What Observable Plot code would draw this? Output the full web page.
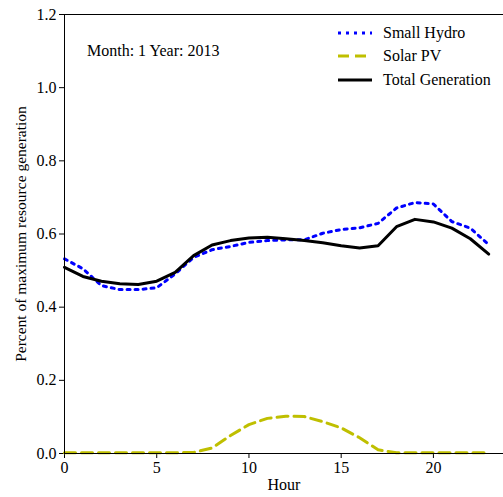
<!DOCTYPE html>
<html>
<head>
<meta charset="utf-8">
<script src="https://cdn.jsdelivr.net/npm/d3@7"></script>
<script src="https://cdn.jsdelivr.net/npm/@observablehq/plot@0.6"></script>
<style>
  html, body { margin: 0; padding: 0; background: #fff; }
  #wrap { position: relative; width: 503px; height: 497px; font-family: "Liberation Serif", serif; }
  #wrap svg text { font-family: "Liberation Serif", serif; }
  #legend { position: absolute; left: 338px; top: 21px; font-size: 16px; color: #000; }
  #legend div { display: flex; align-items: center; height: 23.5px; }
  #legend svg { margin-right: 11px; }
  #note { position: absolute; left: 87px; top: 42px; font-size: 16px; }
</style>
</head>
<body>
<div id="wrap"></div>
<script>
const hours = d3.range(0, 24);
const smallHydro = [0.532, 0.505, 0.459, 0.448, 0.448, 0.453, 0.491, 0.536, 0.557, 0.566, 0.577, 0.582, 0.584, 0.584, 0.602, 0.612, 0.617, 0.629, 0.671, 0.686, 0.682, 0.634, 0.616, 0.571];
const solarPV = [0.002, 0.002, 0.002, 0.002, 0.002, 0.002, 0.002, 0.003, 0.015, 0.049, 0.079, 0.096, 0.102, 0.101, 0.087, 0.070, 0.043, 0.010, 0.002, 0.002, 0.002, 0.002, 0.002, 0.002];
const totalGen = [0.509, 0.484, 0.471, 0.464, 0.462, 0.471, 0.495, 0.541, 0.570, 0.582, 0.589, 0.591, 0.587, 0.582, 0.576, 0.568, 0.562, 0.568, 0.620, 0.640, 0.633, 0.616, 0.587, 0.545];
const xTicks = [0, 5, 10, 15, 20];
const yTicks = [0, 0.2, 0.4, 0.6, 0.8, 1.0, 1.2];
const seriesNames = ["Small Hydro", "Solar PV", "Total Generation"];
const annotation = "Month: 1 Year: 2013";

const styles = {
  "Small Hydro": {stroke: "#0000ff", strokeWidth: 3, strokeDasharray: "3,5"},
  "Solar PV": {stroke: "#bfbf00", strokeWidth: 3, strokeDasharray: "11,6"},
  "Total Generation": {stroke: "#000000", strokeWidth: 3, strokeDasharray: null}
};

const mk = (vals) => hours.map((h, i) => ({hour: h, value: vals[i]}));

const chart = Plot.plot({
  width: 503,
  height: 497,
  marginLeft: 64,
  marginRight: 0,
  marginTop: 14,
  marginBottom: 44,
  style: {fontFamily: "'Liberation Serif', serif", fontSize: "16px", color: "#000", background: "#fff"},
  x: {domain: [0, 23.8]},
  y: {domain: [0, 1.2]},
  marks: [
    Plot.axisX({ticks: xTicks, tickSize: 5, tickPadding: 3, label: null, fontSize: 16}),
    Plot.axisX({ticks: [], tickSize: 0, label: "Hour", labelAnchor: "center", labelOffset: 36, labelArrow: "none", fontSize: 16}),
    Plot.axisY({ticks: yTicks, tickSize: 5, tickPadding: 3, tickFormat: d => d.toFixed(1), label: null, fontSize: 16}),
    Plot.axisY({ticks: [], tickSize: 0, label: "Percent of maximum resource generation", labelAnchor: "center", labelOffset: 50, labelArrow: "none", fontSize: 15.5}),
    Plot.line(mk(smallHydro), {x: "hour", y: "value", ...styles["Small Hydro"]}),
    Plot.line(mk(solarPV), {x: "hour", y: "value", ...styles["Solar PV"]}),
    Plot.line(mk(totalGen), {x: "hour", y: "value", ...styles["Total Generation"]}),
    Plot.ruleY([0, 1.2], {stroke: "#000", strokeWidth: 1}),
    Plot.ruleX([0], {stroke: "#000", strokeWidth: 1})
  ]
});

const wrap = document.getElementById("wrap");
wrap.appendChild(chart);
chart.setAttribute("font-family", "'Liberation Serif', serif");
chart.querySelectorAll("g[aria-label]").forEach(g => g.setAttribute("font-family", "'Liberation Serif', serif"));

const note = document.createElement("div");
note.id = "note";
note.textContent = annotation;
wrap.appendChild(note);

const legend = document.createElement("div");
legend.id = "legend";
for (const name of seriesNames) {
  const s = styles[name];
  const row = document.createElement("div");
  const dash = s.strokeDasharray ? `stroke-dasharray="${s.strokeDasharray}"` : "";
  row.innerHTML = `<svg width="34" height="6"><line x1="0" x2="34" y1="3" y2="3" stroke="${s.stroke}" stroke-width="${s.strokeWidth}" ${dash}/></svg><span>${name}</span>`;
  legend.appendChild(row);
}
wrap.appendChild(legend);
</script>
</body>
</html>
